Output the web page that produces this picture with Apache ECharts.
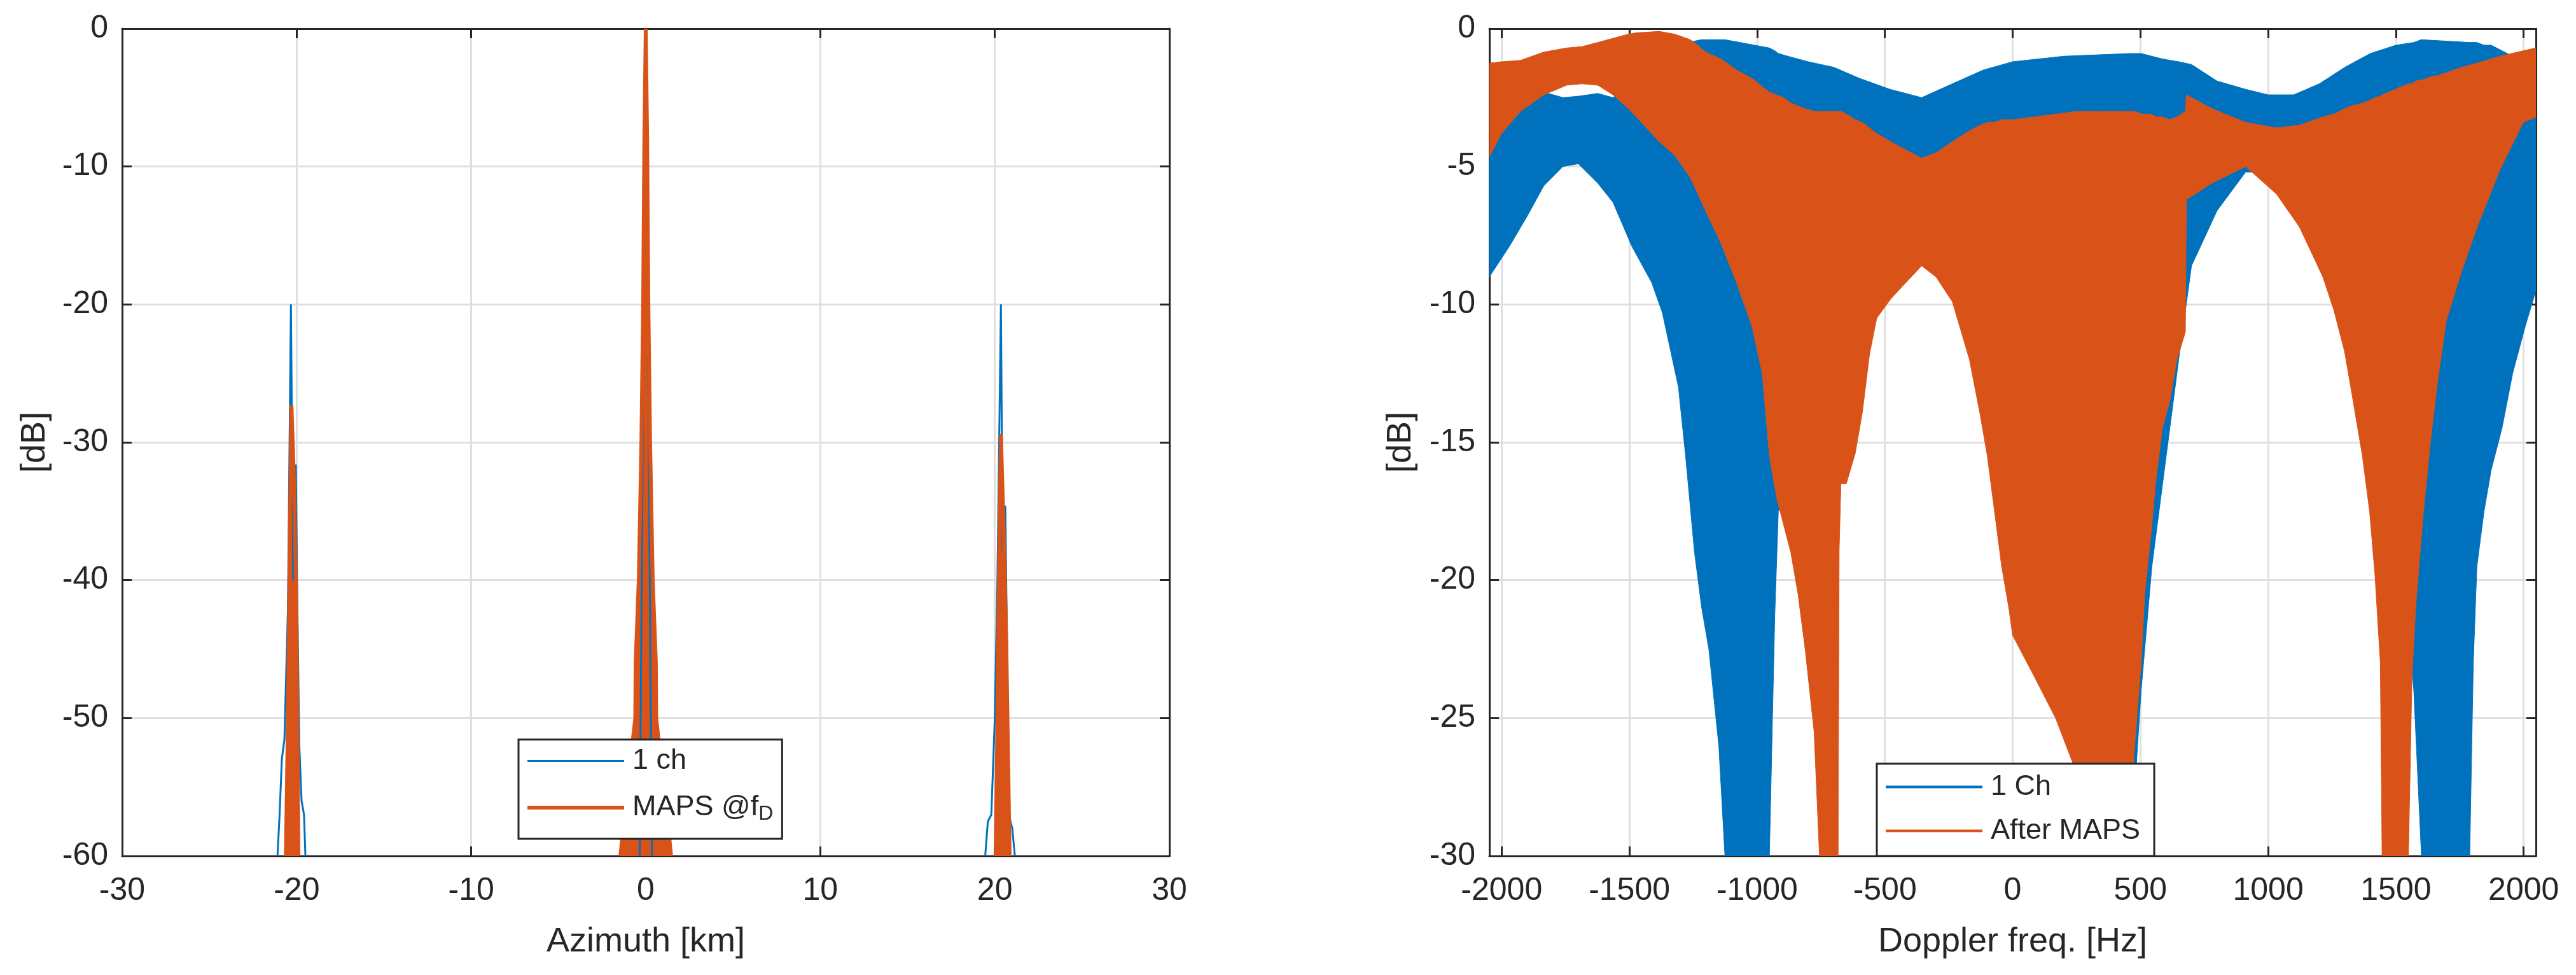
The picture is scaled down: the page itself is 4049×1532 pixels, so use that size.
<!DOCTYPE html>
<html>
<head>
<meta charset="utf-8">
<script src="https://cdn.jsdelivr.net/npm/echarts@6/dist/echarts.min.js"></script>
<style>
html,body{margin:0;padding:0;background:#fff;}
#main{width:4049px;height:1532px;}
</style>
</head>
<body>
<div id="main"></div>
<script>
// 左图：方位向剖面 (km, dB)，null 处断开
var azBlue = [
  [-21.1,-60],[-20.98,-57],[-20.85,-53],[-20.7,-51.5],[-20.5,-42],[-20.33,-20],[-20.2,-40],[-20.05,-31.6],[-19.95,-43],[-19.85,-52],[-19.72,-56],[-19.58,-57],[-19.5,-60],
  [-10,null],
  [-0.35,-60],[-0.2,-35],[-0.08,-12],[0,0],[0.08,-12],[0.2,-35],[0.35,-60],
  [10,null],
  [19.45,-60],[19.6,-57.5],[19.8,-57],[20.0,-50],[20.15,-40],[20.35,-20],[20.45,-38],[20.6,-34.6],[20.7,-45],[20.8,-57],[21.0,-58],[21.15,-60]
];
var azOrange = [
  [-20.62,-60],[-20.5,-50],[-20.4,-38],[-20.3,-27.3],[-20.15,-33],[-20.02,-42],[-19.95,-52],[-19.9,-60],
  [-10,null],
  [-1.45,-60],[-1.3,-58],[-0.6,-50],[-0.58,-46],[-0.4,-40],[-0.25,-30],[-0.15,-20],[-0.08,-8],[0,0],
  [0.08,-8],[0.15,-20],[0.25,-30],[0.4,-40],[0.58,-46],[0.6,-50],[1.3,-58],[1.45,-60],
  [10,null],
  [20.05,-60],[20.15,-50],[20.25,-38],[20.35,-29.4],[20.5,-36],[20.65,-44],[20.75,-52],[20.85,-60]
];

// 右图：多普勒谱包络 (Hz, 上包络 dB, 下包络 dB)
var blueHz = [
  -2048,-1970,-1900,-1835,-1760,-1700,-1624,-1564,-1490,-1413,
  -1371,-1343,-1308,-1280,-1245,-1217,-1189,-1150,-1126,-952,
  -931,-917,-880,-800,-700,-600,-480,-356,-236,-115,
  0,100,200,461,503,545,587,650,700,800,
  912,1000,1100,1200,1300,1400,1500,1570,1600,1789,
  1803,1817,1845,1873,1915,1957,2006,2048
];
var blueUp = [
  -1.3,-1.7,-2.0,-2.3,-2.5,-2.45,-2.35,-2.5,-2.0,-1.4,
  -1.1,-0.9,-0.7,-0.5,-0.45,-0.4,-0.4,-0.4,-0.4,-0.7,
  -0.8,-0.9,-1.0,-1.2,-1.4,-1.8,-2.2,-2.5,-2.0,-1.5,
  -1.2,-1.1,-1.0,-0.9,-0.9,-1.0,-1.1,-1.2,-1.3,-1.9,
  -2.2,-2.4,-2.4,-2.0,-1.4,-0.9,-0.6,-0.5,-0.4,-0.5,
  -0.5,-0.5,-0.6,-0.6,-0.8,-1.0,-1.2,-1.3
];
var blueLow = [
  -9.0,-7.9,-6.8,-5.7,-5.0,-4.9,-5.6,-6.3,-7.9,-9.2,
  -10.3,-11.5,-13.0,-15.5,-19.0,-21.0,-22.5,-26.0,-30,-30,
  -21.3,-17.5,-17.0,-14.0,-10.0,-7.5,-6.0,-5.5,-6.0,-8.0,
  -12.0,-18.0,-25.0,-30,-24.0,-19.5,-16.5,-12.0,-8.6,-6.6,
  -5.2,-5.2,-6.0,-7.5,-9.5,-12.0,-16.0,-24.0,-30,-30,
  -23.0,-19.5,-17.5,-16.0,-14.5,-12.5,-10.8,-9.5
];

var orangeHz = [
  -2048,-2000,-1926,-1835,-1745,-1685,-1624,-1564,-1504,-1473,
  -1383,-1322,-1262,-1232,-1202,-1141,-1111,-1081,-1020,-980,
  -952,-924,-896,-868,-840,-812,-777,-756,-683,-679,
  -672,-651,-616,-588,-560,-532,-477,-417,-356,-300,
  -236,-169,-127,-99,-71,-43,-15,0,85,168,
  251,300,334,420,461,482,503,517,545,559,
  586,615,643,676,680,780,912,1033,1123,1214,
  1257,1299,1327,1369,1397,1418,1439,1446,1549,1563,
  1578,1607,1635,1663,1697,1757,1818,1908,1999,2048
];
var orangeUp = [
  -1.25,-1.2,-1.15,-0.85,-0.7,-0.65,-0.5,-0.35,-0.2,-0.15,
  -0.1,-0.2,-0.4,-0.6,-0.85,-1.1,-1.3,-1.5,-1.8,-2.1,
  -2.3,-2.4,-2.5,-2.7,-2.8,-2.9,-3.0,-3.0,-3.0,-3.0,
  -3.0,-3.1,-3.3,-3.4,-3.6,-3.8,-4.1,-4.4,-4.7,-4.5,
  -4.1,-3.7,-3.5,-3.4,-3.4,-3.3,-3.3,-3.3,-3.2,-3.1,
  -3.0,-3.0,-3.0,-3.0,-3.0,-3.0,-3.1,-3.1,-3.1,-3.2,
  -3.2,-3.3,-3.2,-3.0,-2.4,-2.9,-3.4,-3.6,-3.5,-3.2,
  -3.1,-2.9,-2.8,-2.7,-2.6,-2.5,-2.45,-2.4,-2.0,-2.0,
  -1.9,-1.85,-1.75,-1.7,-1.6,-1.4,-1.25,-1.0,-0.8,-0.7
];
var orangeLow = [
  -4.65,-3.8,-3.0,-2.4,-2.05,-2.0,-2.05,-2.4,-2.9,-3.2,
  -4.1,-4.6,-5.4,-6.0,-6.6,-7.8,-8.5,-9.2,-10.8,-12.5,
  -15.5,-17.0,-18.0,-19.0,-20.5,-22.5,-25.5,-30,-30,-18.9,
  -16.5,-16.5,-15.4,-13.9,-11.8,-10.5,-9.8,-9.2,-8.6,-9.0,
  -9.9,-12.0,-14.0,-15.5,-17.5,-19.5,-21.0,-22.0,-23.5,-25.0,
  -27.0,-29.0,-30,-30,-28.0,-25.5,-23.0,-20.5,-18.0,-16.5,
  -14.5,-13.5,-12.0,-11.0,-6.2,-5.6,-5.0,-6.0,-7.2,-9.0,
  -10.2,-11.7,-13.2,-15.5,-17.5,-19.8,-23.0,-30,-30,-23.5,
  -20.9,-17.6,-15.0,-12.8,-10.6,-8.8,-7.2,-5.1,-3.4,-3.2
];

var leftXTicks = [-30, 30, 10];
var leftYTicks = [-60, 0, 10];
var rightXRange = [-2048, 2048];
var rightYTicks = [-30, 0, 5];

var BLUE = '#0072BD', ORANGE = '#D95319', INK = '#262626', GRID = '#dfdfdf';
var FONT = '"Liberation Sans", Arial, Helvetica, sans-serif';

var myChart = echarts.init(document.getElementById('main'));

// 上下包络围成的多边形
function bandRender(xs, up, low, color) {
  return function (params, api) {
    if (params.dataIndex !== 0) return null;
    var pts = [], i;
    for (i = 0; i < xs.length; i++) pts.push(api.coord([xs[i], up[i]]));
    for (i = xs.length - 1; i >= 0; i--) pts.push(api.coord([xs[i], low[i]]));
    return {type: 'polygon', shape: {points: pts}, style: {fill: color, stroke: color, lineWidth: 1}};
  };
}

function boxAxis(grid, pos, min, max, interval) {
  return {
    type: 'value', gridIndex: grid, position: pos, min: min, max: max, interval: interval,
    axisLine: {show: true, onZero: false, lineStyle: {color: INK, width: 3}},
    axisTick: {show: true, inside: true, length: 15, lineStyle: {color: INK, width: 3}},
    axisLabel: {show: false}, splitLine: {show: false}
  };
}

var tickLabel = {color: INK, fontSize: 50, fontFamily: FONT};
var axisName = {color: INK, fontSize: 54, fontFamily: FONT};

var option = {
  backgroundColor: '#fff',
  animation: false,
  grid: [
    {left: 192, top: 45, width: 1646, height: 1300},
    {left: 2341, top: 45, width: 1645, height: 1300}
  ],
  xAxis: [
    {
      type: 'value', gridIndex: 0, min: leftXTicks[0], max: leftXTicks[1], interval: leftXTicks[2],
      name: 'Azimuth [km]', nameLocation: 'middle', nameGap: 108, nameTextStyle: axisName,
      axisLine: {onZero: false, lineStyle: {color: INK, width: 3}},
      axisTick: {inside: true, length: 15, lineStyle: {color: INK, width: 3}},
      axisLabel: Object.assign({margin: 30}, tickLabel),
      splitLine: {show: true, lineStyle: {color: GRID, width: 3}}
    },
    boxAxis(0, 'top', leftXTicks[0], leftXTicks[1], leftXTicks[2]),
    {
      type: 'value', gridIndex: 1, min: rightXRange[0], max: rightXRange[1], splitNumber: 8,
      name: 'Doppler freq. [Hz]', nameLocation: 'middle', nameGap: 108, nameTextStyle: axisName,
      axisLine: {onZero: false, lineStyle: {color: INK, width: 3}},
      axisTick: {inside: true, length: 15, lineStyle: {color: INK, width: 3}},
      axisLabel: Object.assign({margin: 30, showMinLabel: false, showMaxLabel: false,
        formatter: function (v) { return v % 500 === 0 ? String(v) : ''; }}, tickLabel),
      splitLine: {show: true, lineStyle: {color: GRID, width: 3}}
    },
    Object.assign(boxAxis(1, 'top', rightXRange[0], rightXRange[1]), {splitNumber: 8})
  ],
  yAxis: [
    {
      type: 'value', gridIndex: 0, min: leftYTicks[0], max: leftYTicks[1], interval: leftYTicks[2],
      name: '[dB]', nameLocation: 'middle', nameGap: 110, nameTextStyle: axisName,
      axisLine: {show: true, onZero: false, lineStyle: {color: INK, width: 3}},
      axisTick: {show: true, inside: true, length: 15, lineStyle: {color: INK, width: 3}},
      axisLabel: Object.assign({margin: 22}, tickLabel),
      splitLine: {show: true, lineStyle: {color: GRID, width: 3}}
    },
    boxAxis(0, 'right', leftYTicks[0], leftYTicks[1], leftYTicks[2]),
    {
      type: 'value', gridIndex: 1, min: rightYTicks[0], max: rightYTicks[1], interval: rightYTicks[2],
      name: '[dB]', nameLocation: 'middle', nameGap: 112, nameTextStyle: axisName,
      axisLine: {show: true, onZero: false, lineStyle: {color: INK, width: 3}},
      axisTick: {show: true, inside: true, length: 15, lineStyle: {color: INK, width: 3}},
      axisLabel: Object.assign({margin: 22}, tickLabel),
      splitLine: {show: true, lineStyle: {color: GRID, width: 3}}
    },
    boxAxis(1, 'right', rightYTicks[0], rightYTicks[1], rightYTicks[2])
  ],
  legend: [
    {
      left: 815, top: 1162, orient: 'vertical',
      backgroundColor: '#fff', borderColor: INK, borderWidth: 3, borderRadius: 0,
      padding: [11, 14, 23, 14], itemGap: 23, itemWidth: 152, itemHeight: 6,
      data: [
        {name: '1 ch', icon: 'path://M0,0H152V3H0Z', itemStyle: {color: BLUE, borderWidth: 0}},
        {name: 'MAPS @f_D', icon: 'path://M0,0H152V6H0Z', itemStyle: {color: ORANGE, borderWidth: 0}}
      ],
      formatter: function (name) {
        return name === 'MAPS @f_D' ? '{n|MAPS @f}{s|D}' : '{n|' + name + '}';
      },
      textStyle: {
        color: INK, fontFamily: FONT, padding: [0, 0, 0, 8],
        rich: {
          n: {fontSize: 45, fontFamily: FONT, color: INK, lineHeight: 52},
          s: {fontSize: 32, fontFamily: FONT, color: INK, lineHeight: 52, verticalAlign: 'bottom', padding: [22, 0, 0, 0]}
        }
      }
    },
    {
      left: 2950, top: 1200, orient: 'vertical',
      backgroundColor: '#fff', borderColor: INK, borderWidth: 3, borderRadius: 0,
      padding: [14, 22, 17, 14], itemGap: 24, itemWidth: 152, itemHeight: 4,
      data: [
        {name: '1 Ch', icon: 'path://M0,0H152V4H0Z', itemStyle: {color: BLUE, borderWidth: 0}},
        {name: 'After MAPS', icon: 'path://M0,0H152V4H0Z', itemStyle: {color: ORANGE, borderWidth: 0}}
      ],
      formatter: function (name) { return '{n|' + name + '}'; },
      textStyle: {
        color: INK, fontFamily: FONT, padding: [0, 0, 0, 8],
        rich: {n: {fontSize: 45, fontFamily: FONT, color: INK, lineHeight: 50}}
      }
    }
  ],
  series: [
    {
      name: '1 ch', type: 'line', xAxisIndex: 0, yAxisIndex: 0, data: azBlue,
      showSymbol: false, symbol: 'none', connectNulls: false, clip: true,
      lineStyle: {color: BLUE, width: 3}, itemStyle: {color: BLUE}
    },
    {
      name: 'MAPS @f_D', type: 'line', xAxisIndex: 0, yAxisIndex: 0, data: azOrange,
      showSymbol: false, symbol: 'none', connectNulls: false, clip: true,
      lineStyle: {color: ORANGE, width: 6}, itemStyle: {color: ORANGE},
      areaStyle: {color: ORANGE, opacity: 1, origin: 'start'}
    },
    {
      name: '1 Ch', type: 'custom', xAxisIndex: 2, yAxisIndex: 2, clip: true,
      data: blueHz.map(function (x, i) { return [x, blueUp[i], blueLow[i]]; }),
      encode: {x: 0, y: [1, 2]},
      itemStyle: {color: BLUE},
      renderItem: bandRender(blueHz, blueUp, blueLow, BLUE)
    },
    {
      name: 'After MAPS', type: 'custom', xAxisIndex: 2, yAxisIndex: 2, clip: true,
      data: orangeHz.map(function (x, i) { return [x, orangeUp[i], orangeLow[i]]; }),
      encode: {x: 0, y: [1, 2]},
      itemStyle: {color: ORANGE},
      renderItem: bandRender(orangeHz, orangeUp, orangeLow, ORANGE)
    }
  ]
};

myChart.setOption(option);
</script>
</body>
</html>
